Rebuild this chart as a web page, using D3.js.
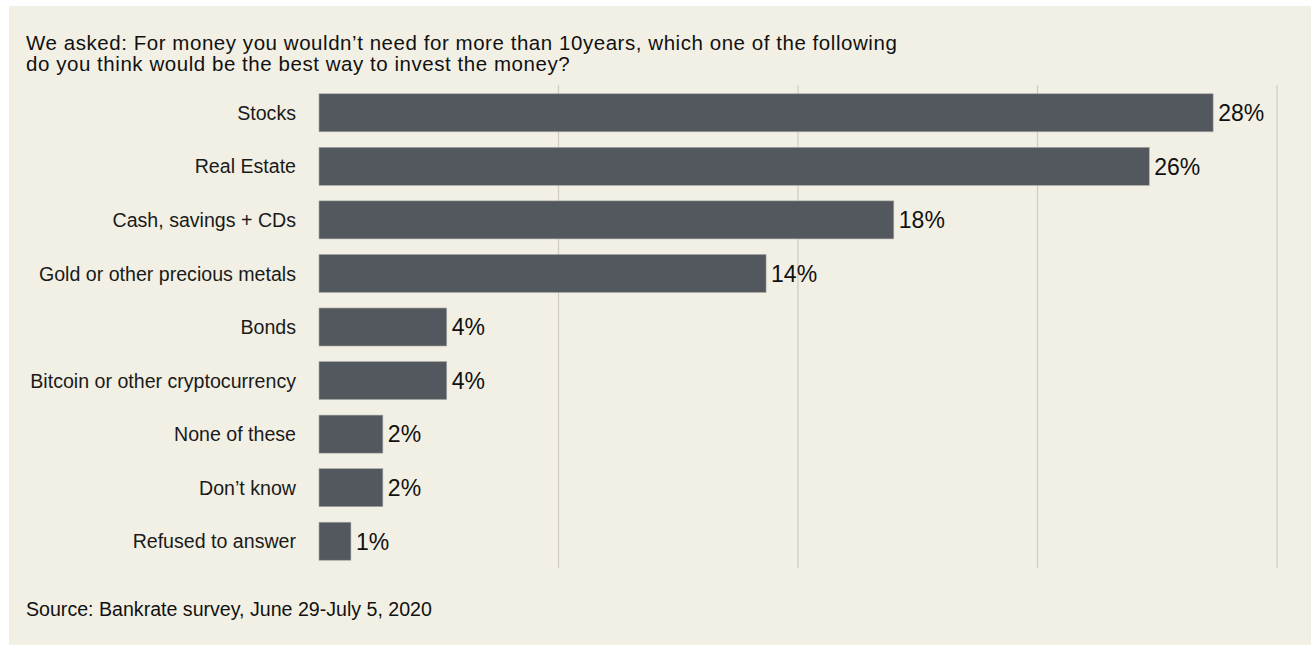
<!DOCTYPE html>
<html>
<head>
<meta charset="utf-8">
<script src="https://cdn.jsdelivr.net/npm/d3@7"></script>
<style>
  body { margin: 0; background: #fff; }
  svg { display: block; font-family: "Liberation Sans", Arial, sans-serif; }
</style>
</head>
<body>
<div id="chart"></div>
<script>
// dados
const categorias = [
  "Stocks", "Real Estate", "Cash, savings + CDs", "Gold or other precious metals",
  "Bonds", "Bitcoin or other cryptocurrency", "None of these", "Don’t know", "Refused to answer"
];
const valores = [28, 26, 18, 14, 4, 4, 2, 2, 1];
const gradeX = [7.5, 15, 22.5, 30];

const W = 1311, H = 645;
const margin = { top: 86, right: 34, bottom: 77, left: 319 };

const svg = d3.select("#chart").append("svg")
  .attr("width", W)
  .attr("height", H);

// fundo bege
svg.append("rect")
  .attr("x", 9).attr("y", 6)
  .attr("width", W - 9).attr("height", H - 6)
  .attr("fill", "#f2f0e4");

const x = d3.scaleLinear()
  .domain([0, 30])
  .range([margin.left, W - margin.right]);

const y = d3.scaleBand()
  .domain(categorias)
  .range([margin.top, H - margin.bottom])
  .paddingInner(0.29)
  .paddingOuter(0.145);

// linhas de grade
svg.append("g")
  .selectAll("line")
  .data(gradeX)
  .join("line")
  .attr("x1", d => x(d)).attr("x2", d => x(d))
  .attr("y1", margin.top - 1).attr("y2", H - margin.bottom)
  .attr("stroke", "#cfcbc1")
  .attr("stroke-width", 1.2);

// barras
svg.append("g")
  .selectAll("rect")
  .data(valores)
  .join("rect")
  .attr("x", x(0))
  .attr("y", (d, i) => y(categorias[i]))
  .attr("width", d => x(d) - x(0))
  .attr("height", y.bandwidth())
  .attr("fill", "#53575e")
  .attr("stroke", "#a9aaa8")
  .attr("stroke-width", 0.6);

// rótulos de valor
svg.append("g")
  .selectAll("text")
  .data(valores)
  .join("text")
  .attr("x", d => x(d) + 5)
  .attr("y", (d, i) => y(categorias[i]) + y.bandwidth() / 2)
  .attr("dy", "0.36em")
  .style("font-size", "23px")
  .attr("fill", "#111")
  .text(d => d + "%");

// categorias
svg.append("g")
  .selectAll("text")
  .data(categorias)
  .join("text")
  .attr("x", x(0) - 23)
  .attr("y", d => y(d) + y.bandwidth() / 2)
  .attr("dy", "0.36em")
  .attr("text-anchor", "end")
  .style("font-size", "19.6px")
  .attr("fill", "#1a1a1a")
  .text(d => d);

// título
const titulo = svg.append("text")
  .attr("x", 26)
  .attr("y", 50)
  .style("font-size", "20.5px")
  .style("letter-spacing", "0.55px")
  .attr("fill", "#111");
titulo.append("tspan").attr("x", 26).text("We asked: For money you wouldn’t need for more than 10years, which one of the following");
titulo.append("tspan").attr("x", 26).attr("dy", 20.5).text("do you think would be the best way to invest the money?");

// fonte
svg.append("text")
  .attr("x", 26)
  .attr("y", 616)
  .style("font-size", "19.6px")
  .attr("fill", "#111")
  .text("Source: Bankrate survey, June 29-July 5, 2020");
</script>
</body>
</html>
